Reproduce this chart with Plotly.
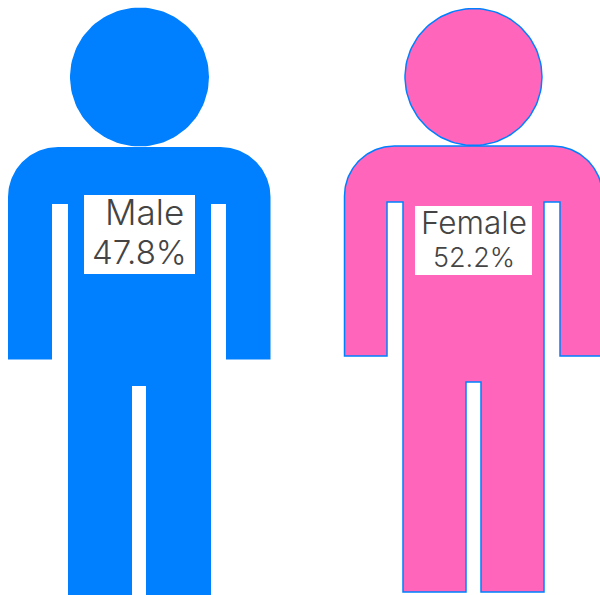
import numpy as np
import plotly.graph_objects as go

genders = ["Male", "Female"]
shares = [47.8, 52.2]
fill_colors = ["#0080ff", "#ff66bb"]
line_colors = ["#0080ff", "#0080ff"]
line_widths = [0, 1.5]
name_sizes = [35, 31.5]
share_sizes = [33, 27]
FONT = "Inter, Lato, sans-serif"


def arc(cx, cy, r, a0, a1, n=40):
    t = np.radians(np.linspace(a0, a1, n))
    return list(cx + r * np.cos(t)), list(cy + r * np.sin(t))


def body_outline(g):
    L, R, T = g["left"], g["right"], g["top"]
    r = g["corner"]
    ax0, ay0 = arc(L + r, T + r, r, 180, 270)
    ax1, ay1 = arc(R - r, T + r, r, 270, 360)
    xs = ax0 + ax1 + [R, g["arm_in_r"], g["arm_in_r"], g["torso_r"], g["torso_r"],
                      g["gap_r"], g["gap_r"], g["gap_l"], g["gap_l"],
                      g["torso_l"], g["torso_l"], g["arm_in_l"], g["arm_in_l"], L, L]
    ys = ay0 + ay1 + [g["arm_bot"], g["arm_bot"], g["slit_top"], g["slit_top"], g["bottom"],
                      g["bottom"], g["gap_top"], g["gap_top"], g["bottom"],
                      g["bottom"], g["slit_top"], g["slit_top"], g["arm_bot"], g["arm_bot"], T + r]
    return xs, ys


figures = [
    dict(head=(139.5, 77, 69.5), left=8, right=270.5, top=147, corner=50,
         arm_in_l=52, arm_in_r=226, torso_l=68, torso_r=211, slit_top=204, arm_bot=359.5,
         gap_l=132, gap_r=146, gap_top=386, bottom=600,
         box=(84, 195, 195, 274), label_pos=[(144.5, 212), (139.5, 252)]),
    dict(head=(473.5, 77, 68.5), left=344.5, right=602.5, top=146, corner=50,
         arm_in_l=387, arm_in_r=560, torso_l=403, torso_r=544, slit_top=202, arm_bot=356,
         gap_l=466, gap_r=481, gap_top=382, bottom=592,
         box=(415, 532, 206, 275), label_pos=[(473.5, 222), (473.5, 257)]),
]

fig = go.Figure()
shapes, annotations = [], []
for name, share, g, fc, lc, lw, ns, ss in zip(genders, shares, figures, fill_colors, line_colors,
                                              line_widths, name_sizes, share_sizes):
    cx, cy, r = g["head"]
    hx, hy = arc(cx, cy, r, 0, 360, 120)
    bx, by = body_outline(g)
    for xs, ys in ((hx, hy), (bx, by)):
        fig.add_trace(go.Scatter(
            x=xs, y=ys, mode="lines", fill="toself", fillcolor=fc, name=name,
            line=dict(color=lc, width=lw), hoverinfo="name", showlegend=False))
    x0, x1, y0, y1 = g["box"]
    shapes.append(dict(type="rect", x0=x0, x1=x1, y0=y0, y1=y1, xref="x", yref="y",
                       fillcolor="white", line=dict(width=0), layer="above"))
    for txt, fs, (tx, ty) in zip([name, f"{share}%"], [ns, ss], g["label_pos"]):
        annotations.append(dict(x=tx, y=ty, xref="x", yref="y", text=txt, showarrow=False,
                                font=dict(family=FONT, size=fs, color="#444444", weight=300),
                                xanchor="center", yanchor="middle"))

fig.update_layout(
    width=600, height=595, margin=dict(l=0, r=0, t=0, b=0),
    paper_bgcolor="white", plot_bgcolor="white", showlegend=False,
    xaxis=dict(range=[0, 600], visible=False, fixedrange=True),
    yaxis=dict(range=[595, 0], visible=False, fixedrange=True),
    shapes=shapes, annotations=annotations,
)
fig.write_html("out.html", config={"displayModeBar": False},
               post_script="document.body.style.margin='0';document.documentElement.style.overflow='hidden';")
